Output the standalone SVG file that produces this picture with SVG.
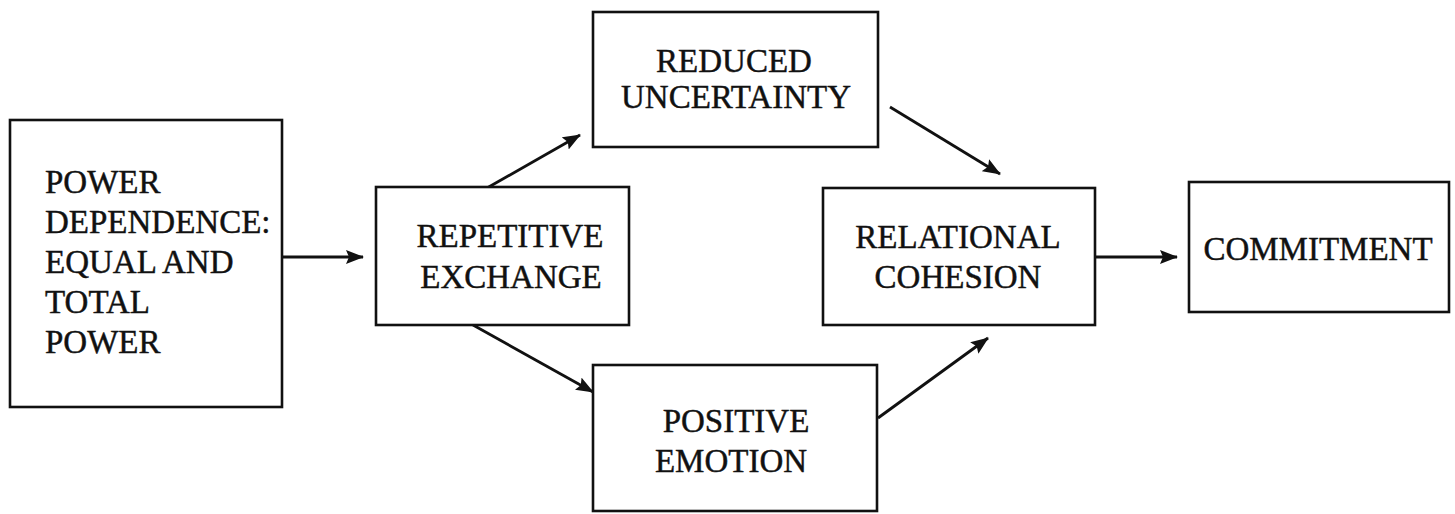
<svg xmlns="http://www.w3.org/2000/svg" width="1455" height="514" viewBox="0 0 1455 514">
  <style>
    .box { fill: #ffffff; stroke: #111111; stroke-width: 2.6; }
    .lbl { font-family: "Liberation Serif", "Times New Roman", serif; font-size: 33px; fill: #111111; stroke: #111111; stroke-width: 0.45; }
    .mid { text-anchor: middle; }
    .edge { fill: none; stroke: #111111; stroke-width: 2.8; }
  </style>
  <defs>
    <marker id="arrow" markerUnits="userSpaceOnUse" markerWidth="18" markerHeight="14" refX="17" refY="7" orient="auto">
      <path d="M0,0 L18,7 L0,14 L3,7 z" fill="#111111"/>
    </marker>
  </defs>

  <rect width="1455" height="514" fill="#ffffff"/>

  <!-- connectors -->
  <g id="connectors">
    <line class="edge" x1="282" y1="257" x2="363" y2="257" marker-end="url(#arrow)"/>
    <line class="edge" x1="487" y1="188" x2="580" y2="135" marker-end="url(#arrow)"/>
    <line class="edge" x1="473" y1="325" x2="593" y2="392" marker-end="url(#arrow)"/>
    <line class="edge" x1="890" y1="107" x2="1000" y2="174" marker-end="url(#arrow)"/>
    <line class="edge" x1="878" y1="418" x2="988" y2="338" marker-end="url(#arrow)"/>
    <line class="edge" x1="1095" y1="257" x2="1177" y2="257" marker-end="url(#arrow)"/>
  </g>

  <!-- nodes -->
  <g id="power-dependence">
    <rect class="box" x="10" y="120" width="272" height="287"/>
    <text class="lbl" x="45" y="193">POWER</text>
    <text class="lbl" x="45" y="233">DEPENDENCE:</text>
    <text class="lbl" x="45" y="273">EQUAL AND</text>
    <text class="lbl" x="45" y="313">TOTAL</text>
    <text class="lbl" x="45" y="353">POWER</text>
  </g>

  <g id="repetitive-exchange">
    <rect class="box" x="376" y="187" width="253" height="138"/>
    <text class="lbl mid" x="510" y="247">REPETITIVE</text>
    <text class="lbl mid" x="511" y="288">EXCHANGE</text>
  </g>

  <g id="reduced-uncertainty">
    <rect class="box" x="593" y="12" width="285" height="135"/>
    <text class="lbl mid" x="734" y="71.5">REDUCED</text>
    <text class="lbl mid" x="736" y="108">UNCERTAINTY</text>
  </g>

  <g id="positive-emotion">
    <rect class="box" x="593" y="365" width="284" height="146"/>
    <text class="lbl mid" x="736" y="431.5">POSITIVE</text>
    <text class="lbl mid" x="731" y="471.5">EMOTION</text>
  </g>

  <g id="relational-cohesion">
    <rect class="box" x="823" y="188" width="272" height="137"/>
    <text class="lbl mid" x="958" y="248">RELATIONAL</text>
    <text class="lbl mid" x="958" y="288">COHESION</text>
  </g>

  <g id="commitment">
    <rect class="box" x="1189" y="182" width="260" height="130"/>
    <text class="lbl mid" x="1318" y="260">COMMITMENT</text>
  </g>
</svg>
